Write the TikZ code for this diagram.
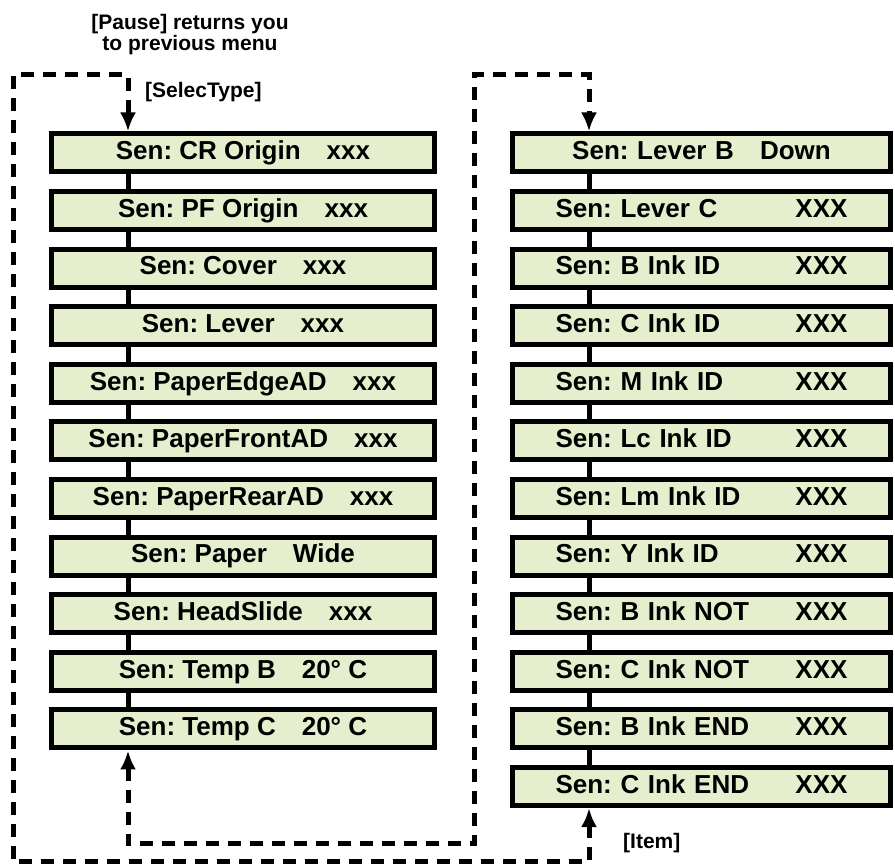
\documentclass[tikz,border=0pt]{standalone}
\usepackage{fontspec}
\setmainfont{Liberation Sans}
\usepackage{tikz}
\usetikzlibrary{arrows.meta, positioning, calc}
\definecolor{lcdfill}{RGB}{229, 238, 205}
\definecolor{framecol}{RGB}{0, 0, 0}
\frenchspacing
\tikzset{
  font=\bfseries,
  senblock/.style={
    rectangle, draw=framecol, fill=lcdfill, line width=5pt,
    minimum height=38pt, inner sep=0pt,
    font=\fontsize{26}{26}\selectfont\bfseries,
    text height=18.5pt, text depth=5pt, align=center
  },
  leftblock/.style={senblock, minimum width=383pt},
  rightblock/.style={senblock, minimum width=378pt, text width=292pt, align=left},
  linkline/.style={draw=framecol, line width=5pt},
  loopline/.style={
    draw=framecol, line width=5pt, dash pattern=on 13pt off 9pt,
    {Latex[length=19pt, width=16pt]}-{Latex[length=19pt, width=16pt]}
  },
  notelabel/.style={font=\fontsize{21}{21}\selectfont\bfseries, align=center, inner sep=0pt}
}
\begin{document}
\begin{tikzpicture}[x=1pt, y=1pt]
  \useasboundingbox (0,0) rectangle (895,864);

  % Left column: first sensor menu
  \node[leftblock] (crorigin) at (243,711) {Sen: CR Origin\quad xxx};
  \node[leftblock, below=14.6pt of crorigin] (pforigin) {Sen: PF Origin\quad xxx};
  \node[leftblock, below=14.6pt of pforigin] (cover) {Sen: Cover\quad xxx};
  \node[leftblock, below=14.6pt of cover] (lever) {Sen: Lever\quad xxx};
  \node[leftblock, below=14.6pt of lever] (edgead) {Sen: PaperEdgeAD\quad xxx};
  \node[leftblock, below=14.6pt of edgead] (frontad) {Sen: PaperFrontAD\quad xxx};
  \node[leftblock, below=14.6pt of frontad] (rearad) {Sen: PaperRearAD\quad xxx};
  \node[leftblock, below=14.6pt of rearad] (paperwide) {Sen: Paper\quad Wide};
  \node[leftblock, below=14.6pt of paperwide] (headslide) {Sen: HeadSlide\quad xxx};
  \node[leftblock, below=14.6pt of headslide] (tempb) {Sen: Temp B\quad 20° C};
  \node[leftblock, below=14.6pt of tempb] (tempc) {Sen: Temp C\quad 20° C};

  % Right column: second sensor menu
  \node[rightblock, align=center] (leverb) at (701.5,711) {Sen: Lever B\quad Down};
  \node[rightblock, below=14.6pt of leverb] (leverc) {Sen: Lever C\hfill XXX};
  \node[rightblock, below=14.6pt of leverc] (binkid) {Sen: B Ink ID\hfill XXX};
  \node[rightblock, below=14.6pt of binkid] (cinkid) {Sen: C Ink ID\hfill XXX};
  \node[rightblock, below=14.6pt of cinkid] (minkid) {Sen: M Ink ID\hfill XXX};
  \node[rightblock, below=14.6pt of minkid] (lcinkid) {Sen: Lc Ink ID\hfill XXX};
  \node[rightblock, below=14.6pt of lcinkid] (lminkid) {Sen: Lm Ink ID\hfill XXX};
  \node[rightblock, below=14.6pt of lminkid] (yinkid) {Sen: Y Ink ID\hfill XXX};
  \node[rightblock, below=14.6pt of yinkid] (binknot) {Sen: B Ink NOT\hfill XXX};
  \node[rightblock, below=14.6pt of binknot] (cinknot) {Sen: C Ink NOT\hfill XXX};
  \node[rightblock, below=14.6pt of cinknot] (binkend) {Sen: B Ink END\hfill XXX};
  \node[rightblock, below=14.6pt of binkend] (cinkend) {Sen: C Ink END\hfill XXX};

  % Notes
  \node[notelabel] (pausenote) at (190,829) {[Pause] returns you\\to previous menu};
  \node[notelabel, anchor=west] (selectnote) at (145,772) {[SelecType]};
  \node[notelabel, anchor=west] (itemnote) at (623,21) {[Item]};

  % Links inside the left column
  \draw[linkline] ([xshift=79pt]crorigin.south west) -- ([xshift=79pt]pforigin.north west);
  \draw[linkline] ([xshift=79pt]pforigin.south west) -- ([xshift=79pt]cover.north west);
  \draw[linkline] ([xshift=79pt]cover.south west) -- ([xshift=79pt]lever.north west);
  \draw[linkline] ([xshift=79pt]lever.south west) -- ([xshift=79pt]edgead.north west);
  \draw[linkline] ([xshift=79pt]edgead.south west) -- ([xshift=79pt]frontad.north west);
  \draw[linkline] ([xshift=79pt]frontad.south west) -- ([xshift=79pt]rearad.north west);
  \draw[linkline] ([xshift=79pt]rearad.south west) -- ([xshift=79pt]paperwide.north west);
  \draw[linkline] ([xshift=79pt]paperwide.south west) -- ([xshift=79pt]headslide.north west);
  \draw[linkline] ([xshift=79pt]headslide.south west) -- ([xshift=79pt]tempb.north west);
  \draw[linkline] ([xshift=79pt]tempb.south west) -- ([xshift=79pt]tempc.north west);

  % Links inside the right column
  \draw[linkline] ([xshift=79pt]leverb.south west) -- ([xshift=79pt]leverc.north west);
  \draw[linkline] ([xshift=79pt]leverc.south west) -- ([xshift=79pt]binkid.north west);
  \draw[linkline] ([xshift=79pt]binkid.south west) -- ([xshift=79pt]cinkid.north west);
  \draw[linkline] ([xshift=79pt]cinkid.south west) -- ([xshift=79pt]minkid.north west);
  \draw[linkline] ([xshift=79pt]minkid.south west) -- ([xshift=79pt]lcinkid.north west);
  \draw[linkline] ([xshift=79pt]lcinkid.south west) -- ([xshift=79pt]lminkid.north west);
  \draw[linkline] ([xshift=79pt]lminkid.south west) -- ([xshift=79pt]yinkid.north west);
  \draw[linkline] ([xshift=79pt]yinkid.south west) -- ([xshift=79pt]binknot.north west);
  \draw[linkline] ([xshift=79pt]binknot.south west) -- ([xshift=79pt]cinknot.north west);
  \draw[linkline] ([xshift=79pt]cinknot.south west) -- ([xshift=79pt]binkend.north west);
  \draw[linkline] ([xshift=79pt]binkend.south west) -- ([xshift=79pt]cinkend.north west);

  % Dashed return loops
  \coordinate (outercorner) at (13,2);
  \coordinate (outertop) at (13,789);
  \coordinate (innercorner) at (474,20);
  \coordinate (innertop) at (474,789);
  \draw[loopline] ([xshift=79pt]cinkend.south west) |- (outercorner) -- (outertop) -| ([xshift=79pt]crorigin.north west);
  \draw[loopline] ([xshift=79pt]tempc.south west) |- (innercorner) -- (innertop) -| ([xshift=79pt]leverb.north west);

\end{tikzpicture}
\end{document}
